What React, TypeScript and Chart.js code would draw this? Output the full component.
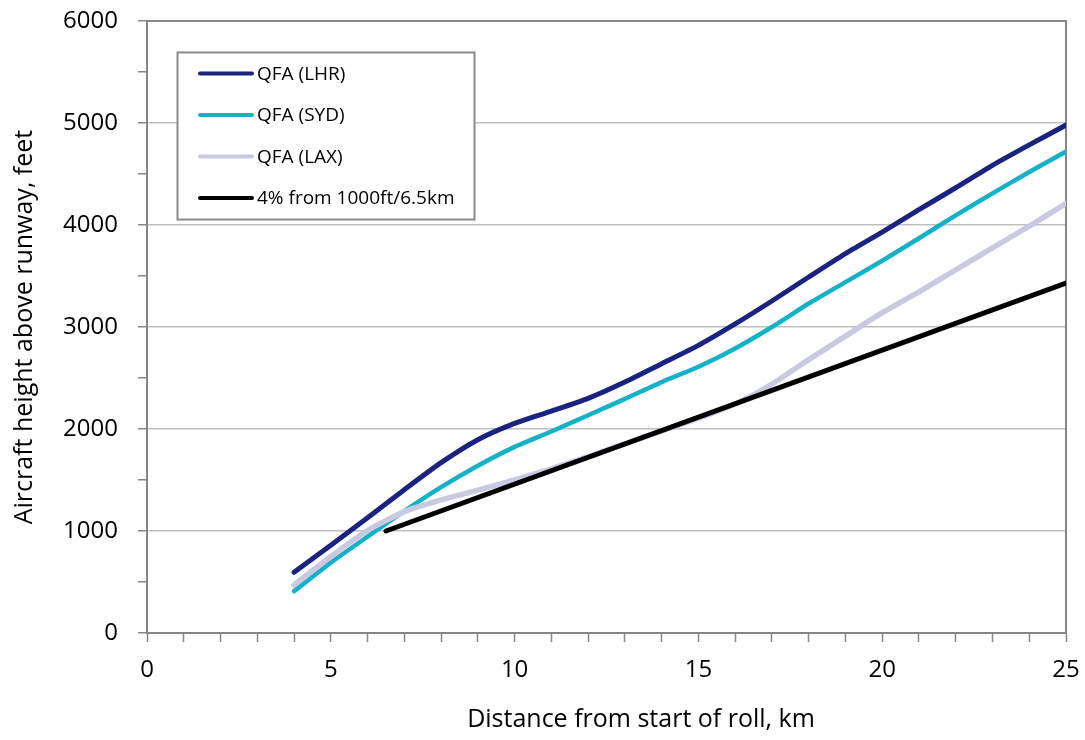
import React, { useEffect, useRef } from "react";
import { Chart, registerables } from "chart.js";

Chart.register(...registerables);

// ---- data ----
const distanceKm = [4, 5, 6, 7, 8, 9, 10, 11, 12, 13, 14, 15, 16, 17, 18, 19, 20, 21, 22, 23, 24, 25];
const qfaLHR = [595, 860, 1130, 1405, 1670, 1895, 2055, 2175, 2300, 2460, 2640, 2820, 3030, 3255, 3490, 3720, 3930, 4150, 4365, 4585, 4785, 4980];
const qfaSYD = [410, 690, 945, 1195, 1430, 1640, 1825, 1975, 2135, 2295, 2460, 2610, 2790, 3000, 3230, 3440, 3650, 3870, 4095, 4310, 4520, 4720];
const qfaLAX = [470, 750, 1005, 1190, 1305, 1400, 1500, 1610, 1730, 1855, 1980, 2105, 2245, 2440, 2680, 2910, 3140, 3345, 3560, 3775, 3990, 4210];
const refKm = [6.5, 25];
const refFt = [1000, 3430];

const seriesLabels = ["QFA (LHR)", "QFA (SYD)", "QFA (LAX)", "4% from 1000ft/6.5km"];
const seriesColors = ["#1b2381", "#14b2c8", "#c9c9e1", "#000000"];
const seriesWidths = [5, 4.5, 5.5, 5];

const xTickLabels = [0, 5, 10, 15, 20, 25];
const yTickLabels = [0, 1000, 2000, 3000, 4000, 5000, 6000];
const xTitle = "Distance from start of roll, km";
const yTitle = "Aircraft height above runway, feet";

const FONT = "'Open Sans', sans-serif";
const AXIS_GRAY = "#868686";
const GRID_GRAY = "#c0c0c0";

const decorPlugin = {
  id: "decor",
  beforeDatasetsDraw(chart: any) {
    const { ctx, chartArea: a } = chart;
    ctx.save();
    ctx.strokeStyle = AXIS_GRAY;
    ctx.lineWidth = 2;
    ctx.beginPath();
    ctx.moveTo(a.left, a.top);
    ctx.lineTo(a.right, a.top);
    ctx.lineTo(a.right, a.bottom);
    ctx.stroke();
    ctx.restore();
  },
  afterDraw(chart: any) {
    const { ctx, chartArea: a } = chart;
    ctx.save();
    // axis titles
    ctx.fillStyle = "#000";
    ctx.font = `25px ${FONT}`;
    ctx.textAlign = "center";
    ctx.textBaseline = "alphabetic";
    ctx.fillText(xTitle, 641, 727);
    ctx.translate(32, (a.top + a.bottom) / 2);
    ctx.rotate(-Math.PI / 2);
    ctx.fillText(yTitle, 0, 0);
    ctx.restore();

    // legend
    ctx.save();
    const bx = 177.5, by = 52.5, bw = 297, bh = 167;
    ctx.fillStyle = "#ffffff";
    ctx.fillRect(bx, by, bw, bh);
    ctx.strokeStyle = "#8a8a8a";
    ctx.lineWidth = 2;
    ctx.strokeRect(bx, by, bw, bh);
    const rows = [73.5, 115, 156.5, 198];
    ctx.font = `19px ${FONT}`;
    ctx.textAlign = "left";
    ctx.textBaseline = "middle";
    chart.data.datasets.forEach((ds: any, i: number) => {
      const y = rows[i];
      ctx.strokeStyle = ds.borderColor;
      ctx.lineWidth = 4;
      ctx.lineCap = "round";
      ctx.beginPath();
      ctx.moveTo(200, y);
      ctx.lineTo(252, y);
      ctx.stroke();
      ctx.fillStyle = "#000";
      ctx.fillText(ds.label, 257, y + 1);
    });
    ctx.restore();
  },
};

export default function App() {
  const canvasRef = useRef<HTMLCanvasElement | null>(null);

  useEffect(() => {
    const canvas = canvasRef.current;
    if (!canvas) return;
    const series = [
      distanceKm.map((x, i) => ({ x, y: qfaLHR[i] })),
      distanceKm.map((x, i) => ({ x, y: qfaSYD[i] })),
      distanceKm.map((x, i) => ({ x, y: qfaLAX[i] })),
      refKm.map((x, i) => ({ x, y: refFt[i] })),
    ];
    const chart = new Chart(canvas, {
      type: "line",
      data: {
        datasets: series.map((d, i) => ({
          label: seriesLabels[i],
          data: d,
          borderColor: seriesColors[i],
          backgroundColor: seriesColors[i],
          borderWidth: seriesWidths[i],
          pointRadius: 0,
          tension: 0.2,
          borderCapStyle: "round",
          borderJoinStyle: "round",
          fill: false,
          order: 4 - i,
        })),
      },
      options: {
        responsive: false,
        animation: false,
        events: [],
        layout: { padding: { top: 21, right: 19, left: 0, bottom: 0 } },
        plugins: {
          legend: { display: false },
          tooltip: { enabled: false },
          title: { display: false },
        },
        scales: {
          x: {
            type: "linear",
            min: 0,
            max: 25,
            afterFit: (s: any) => {
              s.height = 107;
              s.paddingLeft = 0;
              s.paddingRight = 0;
            },
            border: { color: AXIS_GRAY, width: 2 },
            grid: {
              drawOnChartArea: false,
              drawTicks: true,
              tickLength: 9,
              tickColor: AXIS_GRAY,
              tickWidth: 1.5,
            },
            ticks: {
              stepSize: 1,
              autoSkip: false,
              maxRotation: 0,
              padding: 14,
              color: "#000",
              font: { family: FONT, size: 24 },
              callback: (v: any) => (xTickLabels.includes(Number(v)) ? String(v) : ""),
            },
          },
          y: {
            type: "linear",
            min: 0,
            max: 6000,
            afterFit: (s: any) => {
              s.width = 147;
              s.paddingTop = 0;
              s.paddingBottom = 0;
            },
            border: { color: AXIS_GRAY, width: 2 },
            grid: {
              drawOnChartArea: true,
              drawTicks: true,
              tickLength: 9,
              tickColor: AXIS_GRAY,
              tickWidth: 1.5,
              lineWidth: 1.5,
              color: (c: any) =>
                c.tick && yTickLabels.includes(c.tick.value) ? GRID_GRAY : "rgba(0,0,0,0)",
            },
            ticks: {
              stepSize: 500,
              autoSkip: false,
              padding: 20,
              color: "#000",
              font: { family: FONT, size: 24 },
              callback: (v: any) => (yTickLabels.includes(Number(v)) ? String(v) : ""),
            },
          },
        },
      },
      plugins: [decorPlugin],
    } as any);
    return () => chart.destroy();
  }, []);

  return (
    <div style={{ position: "absolute", left: 0, top: 0, width: 1085, height: 740, background: "#fff" }}>
      <canvas ref={canvasRef} width={1085} height={740} style={{ width: 1085, height: 740, display: "block" }} />
    </div>
  );
}
